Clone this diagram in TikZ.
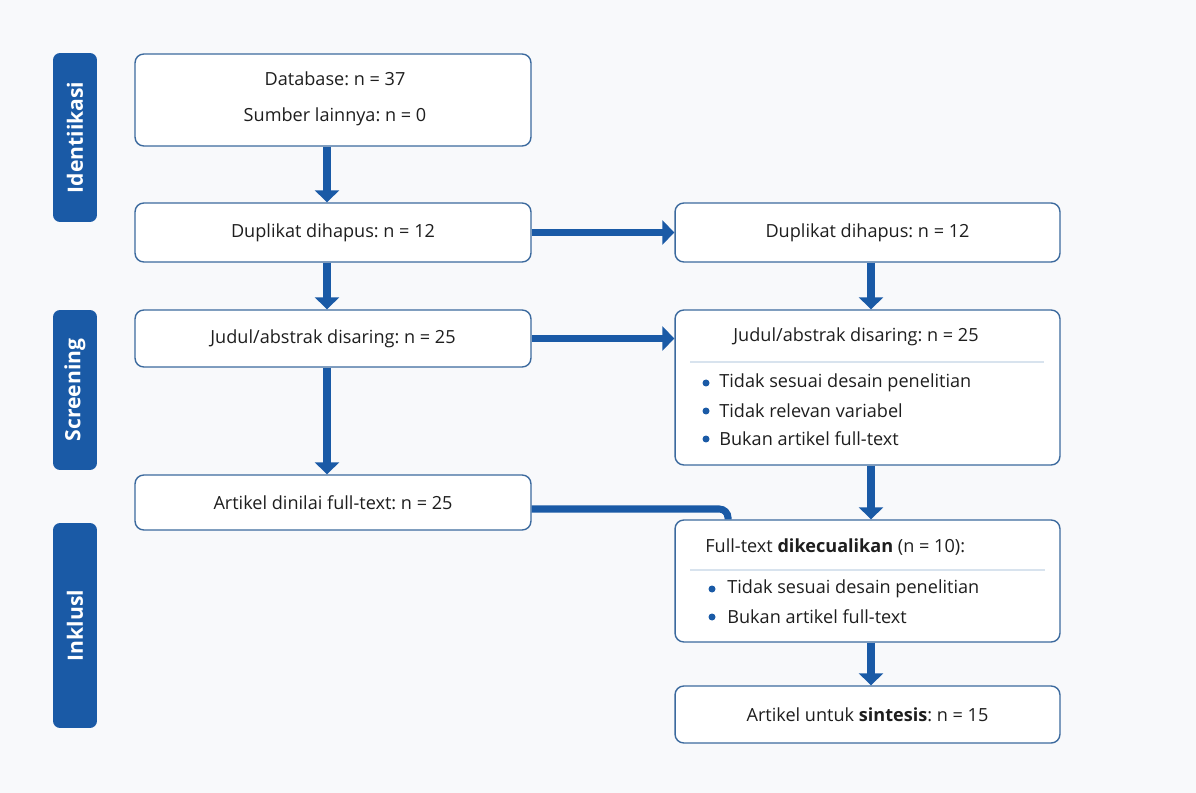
\documentclass[tikz,border=0pt]{standalone}
\usepackage{fontspec}
\setmainfont{Open Sans}
\usetikzlibrary{arrows.meta}
\definecolor{bgcol}{HTML}{F8F9FB}
\definecolor{blu}{HTML}{1A5AA6}
\definecolor{edge}{HTML}{3C6A9E}
\definecolor{sepcol}{HTML}{D8E3EE}
\definecolor{ink}{HTML}{1E1E1E}
\frenchspacing

\begin{document}
\begin{tikzpicture}[x=0.02cm,y=-0.02cm,
  box/.style={draw=edge,line width=0.8pt,rounded corners=5pt,fill=white,inner sep=0pt,
    text=ink,font=\fontsize{10.3}{12}\selectfont},
  tag/.style={fill=blu,rounded corners=4pt,text=white,rotate=90,inner sep=0pt,
    font=\fontsize{12}{14}\selectfont\bfseries},
  txt/.style={text=ink,font=\fontsize{10.3}{12}\selectfont,inner sep=0pt},
  flow/.style={draw=blu,line width=4pt,-{Triangle[length=0.24cm,width=0.48cm]}},
  link/.style={draw=blu,line width=4pt,rounded corners=5pt},
  dot/.style={circle,fill=blu,inner sep=0pt,minimum size=0.14cm}]
\path[use as bounding box,fill=bgcol] (0,0) rectangle (1196,793);

\node[tag,minimum width=3.38cm,minimum height=0.88cm] (ident) at (75,137.5) {Identiikasi};
\node[tag,minimum width=3.2cm,minimum height=0.88cm] (scr) at (75,390) {Screening};
\node[tag,minimum width=4.1cm,minimum height=0.88cm] (inkl) at (75,625.5) {Inklusl};

\node[box,minimum width=7.92cm,minimum height=1.84cm] (A) at (333,100) {};
\node[txt] (a1) at (335,79) {Database: n = 37};
\node[txt] (a2) at (335,117) {Sumber lainnya: n = 0};

\node[box,minimum width=7.92cm,minimum height=1.18cm] (B) at (333,232.5) {Duplikat dihapus: n = 12};
\node[box,minimum width=7.7cm,minimum height=1.18cm] (C) at (867.5,232.5) {Duplikat dihapus: n = 12};
\node[box,minimum width=7.92cm,minimum height=1.14cm] (D) at (333,338.5) {Judul/abstrak disaring: n = 25};

\node[box,minimum width=7.7cm,minimum height=3.1cm] (E) at (867.5,387.5) {};
\node[txt] (e0) at (856,337) {Judul/abstrak disaring: n = 25};
\draw[sepcol,line width=0.6pt] (690,362) -- (1044,362);
\node[dot] (ed1) at (706,383) {}; \node[txt,anchor=west] (e1) at (719,383) {Tidak sesuai desain penelitian};
\node[dot] (ed2) at (706,411) {}; \node[txt,anchor=west] (e2) at (719,411) {Tidak relevan variabel};
\node[dot] (ed3) at (706,439) {}; \node[txt,anchor=west] (e3) at (719,439) {Bukan artikel full-text};

\node[box,minimum width=7.92cm,minimum height=1.1cm] (F) at (333,502.5) {Artikel dinilai full-text: n = 25};

\node[box,minimum width=7.7cm,minimum height=2.44cm] (G) at (867.5,581) {};
\node[txt,anchor=west] (g0) at (705,547) {Full-text \textbf{dikecualikan} (n = 10):};
\draw[sepcol,line width=0.6pt] (690,570) -- (1045,570);
\node[dot] (gd1) at (712,589) {}; \node[txt,anchor=west] (g1) at (727,589) {Tidak sesuai desain penelitian};
\node[dot] (gd2) at (712,617) {}; \node[txt,anchor=west] (g2) at (727,617) {Bukan artikel full-text};

\node[box,minimum width=7.7cm,minimum height=1.14cm] (H) at (867.5,714.5) {Artikel untuk \textbf{sintesis}: n = 15};

\draw[flow] ([xshift=-0.12cm]A.south) -- ([xshift=-0.12cm]B.north);
\draw[flow] ([xshift=-0.12cm]B.south) -- ([xshift=-0.12cm]D.north);
\draw[flow] ([xshift=-0.12cm]D.south) -- ([xshift=-0.12cm]F.north);
\draw[flow] (B.east) -- (C.west);
\draw[flow] (D.east) -- (D.east -| E.west);
\draw[flow] ([xshift=0.07cm]C.south) -- ([xshift=0.07cm]E.north);
\draw[flow] ([xshift=0.07cm]E.south) -- ([xshift=0.07cm]G.north);
\draw[flow] ([xshift=0.07cm]G.south) -- ([xshift=0.07cm]H.north);
\draw[link] ([yshift=-0.13cm]F.east) -| ([xshift=-2.79cm]G.north);
\end{tikzpicture}
\end{document}
